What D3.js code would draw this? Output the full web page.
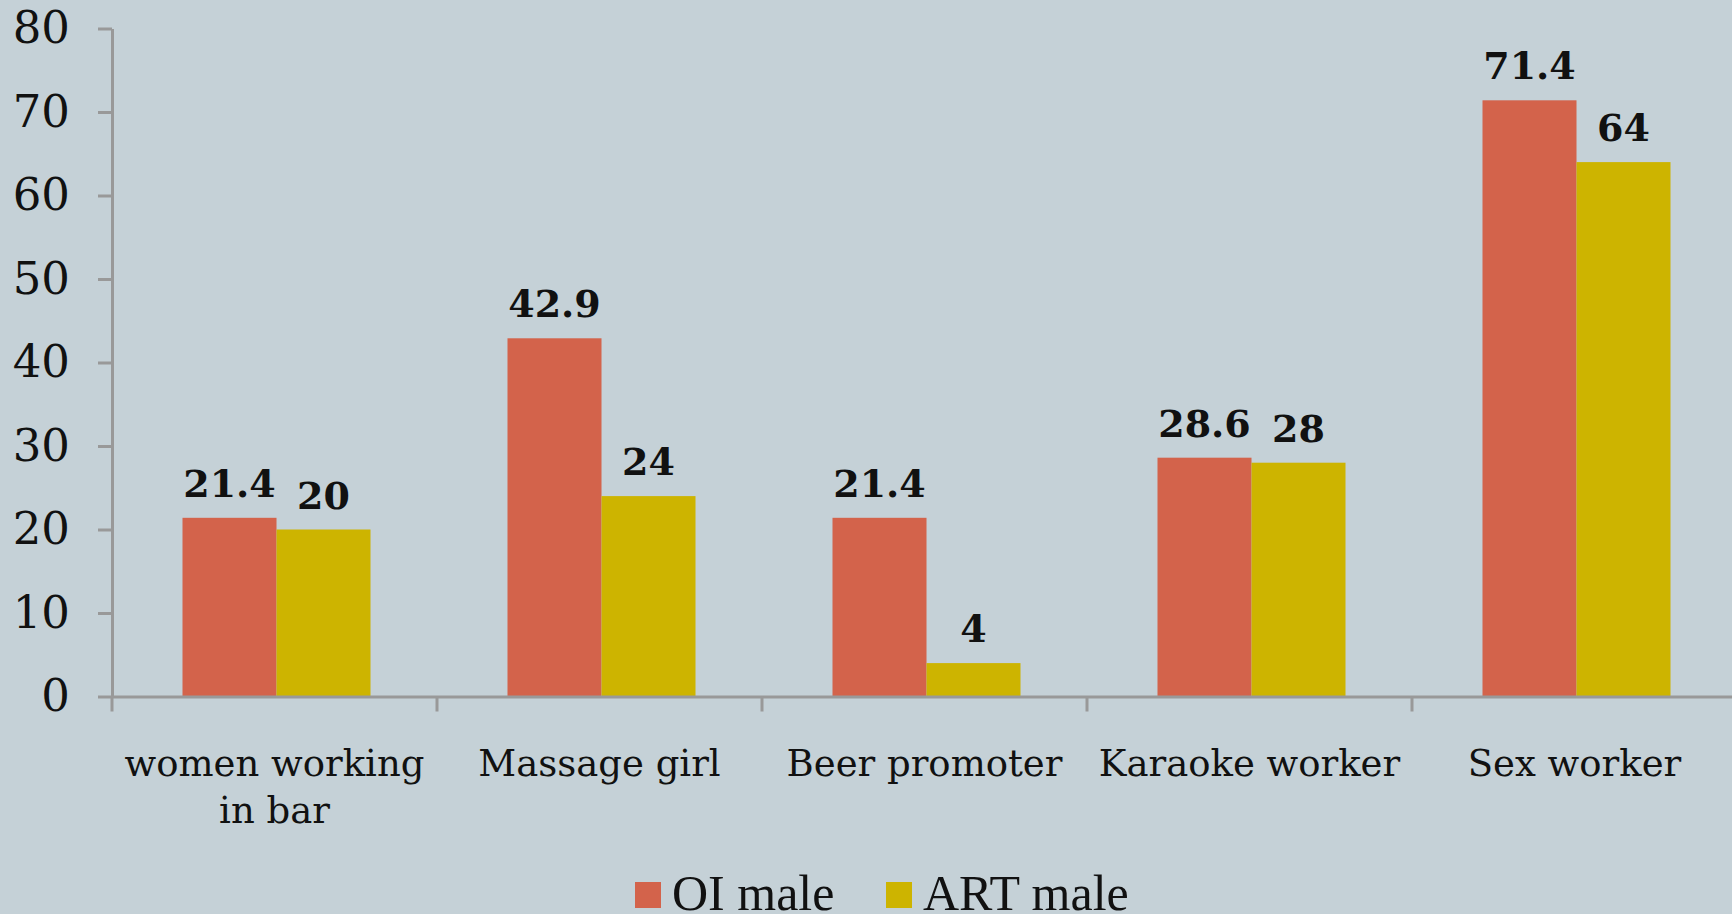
<!DOCTYPE html>
<html>
<head>
<meta charset="utf-8">
<script src="https://cdn.jsdelivr.net/npm/d3@7"></script>
<style>
  html, body { margin: 0; padding: 0; background: #C5D1D7; overflow: hidden; }
  svg { display: block; }
</style>
</head>
<body>
<script>
var w = 1732;
var h = 914;

var categories = ["women working|in bar", "Massage girl", "Beer promoter", "Karaoke worker", "Sex worker"];
var series = ["OI male", "ART male"];
var oiMale = [21.4, 42.9, 21.4, 28.6, 71.4];
var artMale = [20, 24, 4, 28, 64];
var yTicks = [0, 10, 20, 30, 40, 50, 60, 70, 80];
var colors = ["#D3634B", "#CDB400"];

var plotLeft = 112, plotBottom = 696.5, plotTop = 28.5, band = 325;

var svg = d3.select("body")
    .append("svg")
    .attr("width", w)
    .attr("height", h);

svg.append("rect")
    .attr("width", w)
    .attr("height", h)
    .attr("fill", "#C5D1D7");

var x0 = d3.scaleBand()
    .domain(categories)
    .range([plotLeft, plotLeft + band * categories.length])
    .padding(0);

var x1 = d3.scaleBand()
    .domain(series)
    .range([70.5, 258.5])
    .padding(0);

var y = d3.scaleLinear()
    .domain([0, 80])
    .range([plotBottom, plotTop]);

// bars
var rows = categories.map(function (c, i) {
    return { cat: c, vals: [oiMale[i], artMale[i]] };
});

var groups = svg.selectAll("g.grp")
    .data(rows)
    .enter()
    .append("g")
    .attr("class", "grp")
    .attr("transform", function (d) { return "translate(" + x0(d.cat) + ",0)"; });

groups.selectAll("rect")
    .data(function (d) { return d.vals.map(function (v, k) { return { s: series[k], v: v, k: k }; }); })
    .enter()
    .append("rect")
    .attr("x", function (d) { return x1(d.s); })
    .attr("y", function (d) { return y(d.v); })
    .attr("width", x1.bandwidth())
    .attr("height", function (d) { return plotBottom - y(d.v); })
    .attr("fill", function (d) { return colors[d.k]; });

groups.selectAll("text.val")
    .data(function (d) { return d.vals.map(function (v, k) { return { s: series[k], v: v }; }); })
    .enter()
    .append("text")
    .attr("class", "val")
    .attr("x", function (d) { return x1(d.s) + x1.bandwidth() / 2; })
    .attr("y", function (d) { return y(d.v) - 21; })
    .attr("text-anchor", "middle")
    .style("font-family", "'DejaVu Serif', serif")
    .style("font-weight", "bold")
    .style("font-size", "38px")
    .style("fill", "#111")
    .text(function (d) { return d.v; });

// y axis
var yAxis = d3.axisLeft(y)
    .tickValues(yTicks)
    .tickSize(14)
    .tickPadding(28)
    .tickSizeOuter(0);

var gy = svg.append("g")
    .attr("transform", "translate(" + plotLeft + ",0)")
    .call(yAxis);

gy.select(".domain").attr("stroke", "#999").attr("stroke-width", 3);
gy.selectAll(".tick line").attr("stroke", "#999").attr("stroke-width", 3);
gy.selectAll(".tick text")
    .style("font-family", "'DejaVu Serif', serif")
    .style("font-size", "45px")
    .style("fill", "#111");

// x axis
var xAxis = d3.axisBottom(x0)
    .tickSize(0)
    .tickFormat("");

var gx = svg.append("g")
    .attr("transform", "translate(0," + plotBottom + ")")
    .call(xAxis);

gx.select(".domain").attr("stroke", "#999").attr("stroke-width", 3);

gx.selectAll("line.sep")
    .data(categories)
    .enter()
    .append("line")
    .attr("class", "sep")
    .attr("x1", function (d) { return x0(d); })
    .attr("x2", function (d) { return x0(d); })
    .attr("y1", 0)
    .attr("y2", 15)
    .attr("stroke", "#999")
    .attr("stroke-width", 3);

var labels = svg.selectAll("text.cat")
    .data(categories)
    .enter()
    .append("text")
    .attr("class", "cat")
    .attr("text-anchor", "middle")
    .style("font-family", "'DejaVu Serif', serif")
    .style("font-size", "37px")
    .style("fill", "#111");

labels.each(function (d) {
    var parts = d.split("|");
    var t = d3.select(this);
    parts.forEach(function (p, i) {
        t.append("tspan")
            .attr("x", x0(d) + band / 2)
            .attr("y", 776 + i * 47)
            .text(p);
    });
});

// legend
var legendX = [635, 886];
var legend = svg.append("g");
series.forEach(function (s, i) {
    var g = legend.append("g").attr("transform", "translate(" + legendX[i] + ",0)");
    g.append("rect")
        .attr("x", 0)
        .attr("y", 882)
        .attr("width", 26)
        .attr("height", 26)
        .attr("fill", colors[i]);
    g.append("text")
        .attr("x", 37)
        .attr("y", 910)
        .style("font-family", "'Liberation Serif', serif")
        .style("font-size", "50px")
        .style("fill", "#111")
        .text(s);
});
</script>
</body>
</html>
